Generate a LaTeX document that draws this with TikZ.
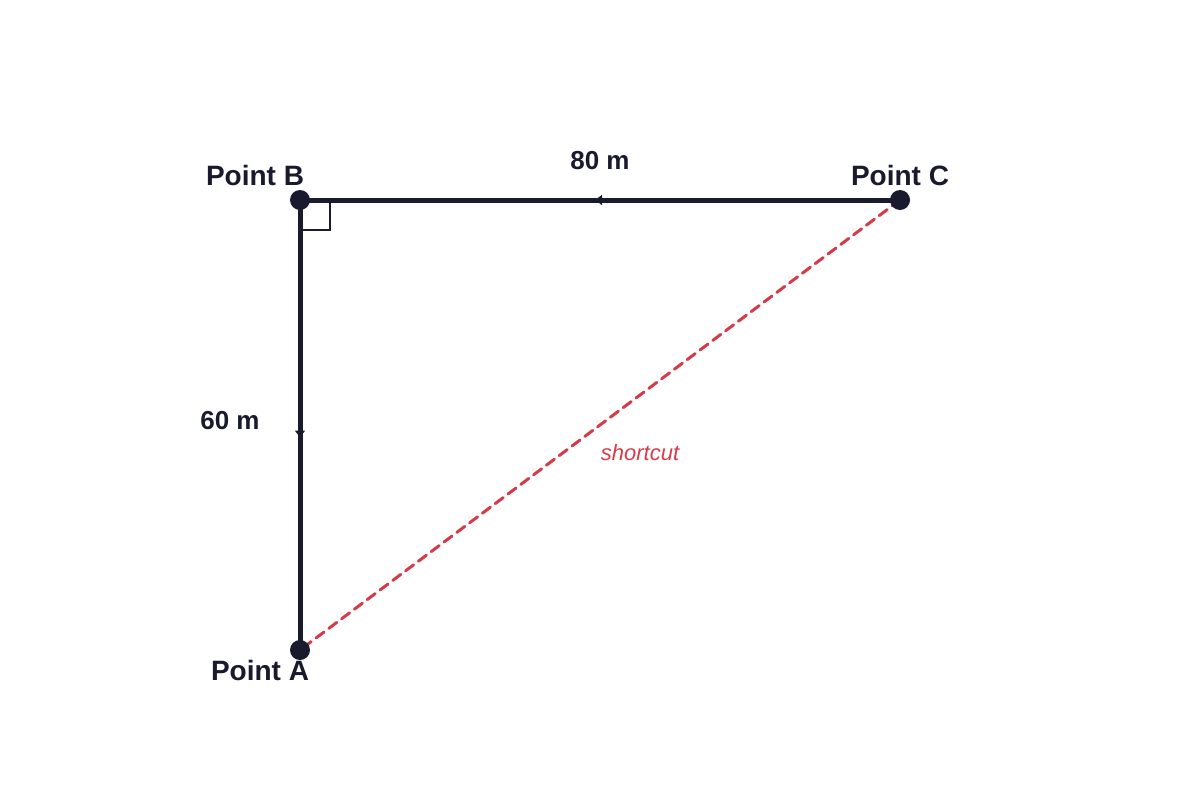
\documentclass[tikz,border=0pt]{standalone}
\usepackage{fontspec}
\setmainfont{Liberation Sans}
\usetikzlibrary{positioning, decorations.markings, arrows.meta}
\definecolor{ink}{HTML}{1A1A2E}
\definecolor{cutred}{HTML}{D63B4A}
\tikzstyle{point} = [circle, inner sep=0pt, minimum size=15pt, fill=ink]
\tikzstyle{ptlabel} = [font=\fontsize{21}{24}\selectfont\bfseries, text=ink]
\tikzstyle{lenlabel} = [font=\fontsize{19.5}{22}\selectfont\bfseries, text=ink]
\tikzstyle{leg} = [line width=3.75pt, ink, decoration={markings, mark=at position #1 with {\arrow{Latex[length=6pt,width=8.5pt]}}}, postaction={decorate}]
\tikzstyle{short} = [line width=2.25pt, cutred, dash pattern=on 7.5pt off 4.5pt, line cap=round]

\begin{document}
\begin{tikzpicture}[x=0.75pt, y=-0.75pt]
\useasboundingbox (0,0) rectangle (1200,800);

\coordinate(B) at (300,200);
\coordinate(C) at (900,200);
\coordinate(A) at (300,650);

% right angle mark
\coordinate(sqB) at (330,230);
\draw [ink, line width=1.5pt] (B) ++(30,0) |- (sqB -| B);

\draw [short] (C) -- (A);
\draw [leg=0.51] (C) -- (B);
\draw [leg=0.53] (B) -- (A);

\node(ptB)[point] at (B) {};
\node(ptC)[point] at (C) {};
\node(ptA)[point] at (A) {};

\node(labB)[ptlabel] at (255,175) {Point B};
\node(labC)[ptlabel] at (900,175) {Point C};
\node(labA)[ptlabel] at (260,670) {Point A};
\node(lenBC)[lenlabel] at (600,161) {80 m};
\node(lenBA)[lenlabel] at (230,421) {60 m};
\node(labcut)[font=\fontsize{16.5}{19}\selectfont\itshape, text=cutred] at (640,453) {shortcut};
\end{tikzpicture}
\end{document}
